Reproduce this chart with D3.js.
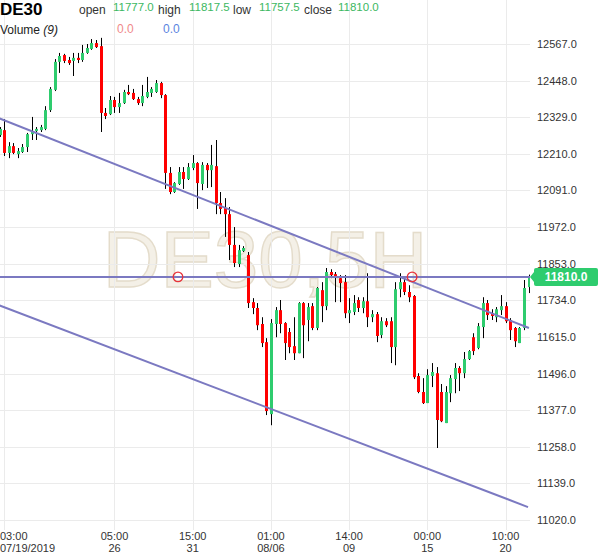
<!DOCTYPE html>
<html><head><meta charset="utf-8">
<script src="https://cdn.jsdelivr.net/npm/d3@7/dist/d3.min.js"></script>
<style>body{margin:0;background:#fff}svg{display:block;font-family:"Liberation Sans",Arial,sans-serif}</style>
</head><body><svg id="c" width="600" height="558"></svg>
<script>
const opens  = [12271,12287,12213,12235,12209,12216,12232,12274,12284,12287,12291,12352,12418,12509,12531,12515,12512,12522,12515,12538,12551,12570,12560,12343,12339,12385,12362,12375,12411,12408,12388,12375,12395,12408,12411,12440,12401,12148,12086,12112,12151,12128,12164,12180,12112,12174,12157,12170,12050,12034,12014,11914,11852,11894,11881,11728,11709,11657,11598,11364,11657,11702,11660,11631,11585,11562,11725,11670,11715,11644,11767,11715,11826,11819,11806,11793,11692,11696,11735,11709,11731,11679,11689,11621,11666,11666,11582,11770,11793,11761,11748,11488,11436,11400,11488,11497,11436,11335,11432,11478,11514,11497,11543,11614,11579,11647,11725,11692,11679,11702,11715,11670,11644,11595,11644,11777];
const highs  = [12297,12323,12248,12245,12229,12242,12278,12330,12297,12304,12365,12427,12518,12538,12535,12525,12538,12538,12564,12567,12583,12580,12587,12359,12398,12395,12408,12418,12434,12421,12395,12434,12460,12427,12450,12444,12404,12167,12118,12167,12167,12180,12206,12183,12183,12180,12239,12255,12086,12066,12037,11972,11914,11910,11891,11741,11725,11679,11611,11673,11712,11735,11663,11644,11679,11728,11728,11725,11725,11777,11793,11839,11835,11826,11816,11816,11741,11751,11744,11744,11822,11702,11696,11679,11676,11679,11793,11822,11809,11783,11751,11497,11481,11510,11530,11517,11462,11455,11491,11530,11520,11566,11572,11627,11660,11744,11735,11705,11712,11751,11728,11676,11647,11647,11800,11817.5];
const lows   = [12265,12203,12196,12209,12196,12213,12216,12255,12255,12281,12287,12346,12414,12473,12505,12499,12463,12505,12509,12535,12548,12554,12281,12323,12336,12343,12343,12372,12401,12385,12369,12365,12391,12395,12408,12391,12096,12079,12083,12109,12096,12125,12157,12031,12092,12099,12102,12014,12014,11940,11865,11842,11842,11891,11709,11689,11637,11582,11361,11328,11614,11627,11540,11562,11540,11562,11546,11601,11637,11637,11663,11702,11806,11728,11728,11676,11660,11686,11696,11692,11647,11663,11598,11611,11647,11530,11523,11744,11751,11728,11478,11432,11397,11400,11452,11254,11338,11335,11403,11432,11439,11481,11540,11556,11575,11611,11670,11670,11663,11686,11660,11605,11582,11595,11637,11757.5];
const closes = [12291,12213,12235,12213,12219,12232,12274,12284,12291,12297,12352,12421,12509,12528,12512,12505,12522,12515,12538,12554,12570,12557,12343,12333,12385,12362,12375,12411,12404,12388,12375,12398,12411,12421,12440,12401,12148,12086,12115,12151,12128,12167,12180,12115,12174,12157,12174,12050,12031,12014,11914,11855,11897,11904,11725,11709,11653,11595,11374,11660,11702,11657,11595,11582,11562,11725,11653,11712,11644,11774,11715,11826,11816,11809,11790,11692,11702,11725,11709,11731,11679,11689,11618,11666,11653,11582,11770,11793,11761,11744,11484,11436,11400,11491,11501,11345,11341,11436,11481,11514,11497,11543,11569,11569,11650,11725,11686,11683,11705,11715,11666,11637,11601,11644,11774,11810];
const priceTicks = [12567,12448,12329,12210,12091,11972,11853,11734,11615,11496,11377,11258,11139,11020];
const timeTickIdx = [1,25,42,59,76,93,110];
const timeTickTop = ["03:00","05:00","15:00","01:00","14:00","00:00","10:00"];
const timeTickBot = ["07/19/2019","26","31","08/06","09","15","20"];
const upperLine = [[0,12325],[115.1,11644]];
const lowerLine = [[-0.1,11718],[114.9,11062]];
const hLinePrice = 11810;
const markerIdx = [38.8,89.7];
const header = {symbol:"DE30",open:"11777.0",high:"11817.5",low:"11757.5",close:"11810.0"};

const svg = d3.select("#c");
const x = d3.scaleLinear().domain([0,115]).range([-0.5,528.5]);
const y = d3.scaleLinear().domain([11020,12567]).range([520,44]);
const plotR = 530, plotB = 530;
const GREEN = "#2ecc6e", RED = "#ff0000", LINE = "#7b79c1";

const defs = svg.append("defs");
defs.append("clipPath").attr("id","pc").append("rect").attr("x",0).attr("y",0).attr("width",plotR).attr("height",plotB);

// watermark
svg.append("text").attr("x",265).attr("y",287).attr("text-anchor","middle")
  .attr("font-size",80).attr("fill","#f4f0e7").attr("stroke","#e4dccb").attr("stroke-width",1.4)
  .text("DE30,5H");

// grid
const g = svg.append("g");
g.selectAll(".hg").data(priceTicks).join("line")
  .attr("x1",0).attr("x2",plotR).attr("y1",d=>Math.round(y(d))+0.5).attr("y2",d=>Math.round(y(d))+0.5)
  .attr("stroke","#ebebeb");
g.selectAll(".vg").data(timeTickIdx).join("line")
  .attr("x1",d=>Math.round(x(d))+0.5).attr("x2",d=>Math.round(x(d))+0.5).attr("y1",0).attr("y2",plotB)
  .attr("stroke","#ebebeb");

// candles
const data = opens.map((o,i)=>({i,o,h:highs[i],l:lows[i],c:closes[i]}));
const cg = svg.append("g").attr("clip-path","url(#pc)");
cg.selectAll(".w").data(data).join("line")
  .attr("x1",d=>Math.round(x(d.i))+0.5).attr("x2",d=>Math.round(x(d.i))+0.5)
  .attr("y1",d=>y(d.h)).attr("y2",d=>y(d.l)).attr("stroke","#000").attr("stroke-width",1);
cg.selectAll(".b").data(data).join("rect")
  .attr("x",d=>Math.round(x(d.i))-1).attr("width",3)
  .attr("y",d=>y(Math.max(d.o,d.c))).attr("height",d=>Math.max(1,Math.abs(y(d.o)-y(d.c))))
  .attr("fill",d=>d.c>=d.o?GREEN:RED);

// lines
const lg = svg.append("g").attr("clip-path","url(#pc)");
const ln = d3.line().x(d=>x(d[0])).y(d=>y(d[1]));
lg.append("path").attr("d",ln(upperLine)).attr("stroke",LINE).attr("stroke-width",2).attr("fill","none");
lg.append("path").attr("d",ln(lowerLine)).attr("stroke",LINE).attr("stroke-width",2).attr("fill","none");
lg.append("line").attr("x1",0).attr("x2",plotR).attr("y1",y(hLinePrice)).attr("y2",y(hLinePrice))
  .attr("stroke",LINE).attr("stroke-width",2);
lg.selectAll(".m").data(markerIdx).join("circle")
  .attr("cx",d=>x(d)).attr("cy",y(hLinePrice)).attr("r",4.8)
  .attr("fill","none").attr("stroke","#e8323a").attr("stroke-width",1.3);

// y axis labels
svg.selectAll(".yl").data(priceTicks).join("text")
  .attr("x",537).attr("y",d=>y(d)+4).attr("font-size",11).attr("fill","#333").text(d=>d.toFixed(1));

// badge
const by = y(hLinePrice);
svg.append("path").attr("d",`M530,${by} L534,${by-5} L534,${by-7} Q534,${by-9} 536,${by-9} L596,${by-9} Q598,${by-9} 598,${by-7} L598,${by+7} Q598,${by+9} 596,${by+9} L536,${by+9} Q534,${by+9} 534,${by+7} L534,${by+5} Z`)
  .attr("fill",GREEN);
svg.append("text").attr("x",566).attr("y",by+4.5).attr("text-anchor","middle").attr("font-size",12)
  .attr("font-weight","bold").attr("fill","#fff").text(hLinePrice.toFixed(1));

// x axis labels
svg.selectAll(".xt").data(timeTickIdx).join("text")
  .attr("x",(d,i)=>i===0?0:x(d)).attr("y",540).attr("text-anchor",(d,i)=>i===0?"start":"middle")
  .attr("font-size",11).attr("fill","#333").text((d,i)=>timeTickTop[i]);
svg.selectAll(".xb").data(timeTickIdx).join("text")
  .attr("x",(d,i)=>i===0?0:x(d)).attr("y",552).attr("text-anchor",(d,i)=>i===0?"start":"middle")
  .attr("font-size",11).attr("fill","#333").text((d,i)=>timeTickBot[i]);

// header
const hd = svg.append("g");
hd.append("text").attr("x",0).attr("y",15).attr("font-size",17).attr("font-weight","bold").attr("fill","#000").text(header.symbol);
const HG = "#3cb862";
[["open",79,header.open,113],["high",158,header.high,189],["low",233,header.low,259],["close",304,header.close,338]].forEach(a=>{
  hd.append("text").attr("x",a[1]).attr("y",14).attr("font-size",12).attr("fill","#333").text(a[0]);
  hd.append("text").attr("x",a[3]).attr("y",10.5).attr("font-size",11.5).attr("fill",HG).text(a[2]);
});
const vt = hd.append("text").attr("x",0).attr("y",34).attr("font-size",12).attr("fill","#222");
vt.append("tspan").text("Volume ");
vt.append("tspan").attr("font-style","italic").text("(9)");
hd.append("text").attr("x",117).attr("y",33).attr("font-size",12).attr("fill","#f08a8a").text("0.0");
hd.append("text").attr("x",163).attr("y",33).attr("font-size",12).attr("fill","#5b84e0").text("0.0");
</script></body></html>
